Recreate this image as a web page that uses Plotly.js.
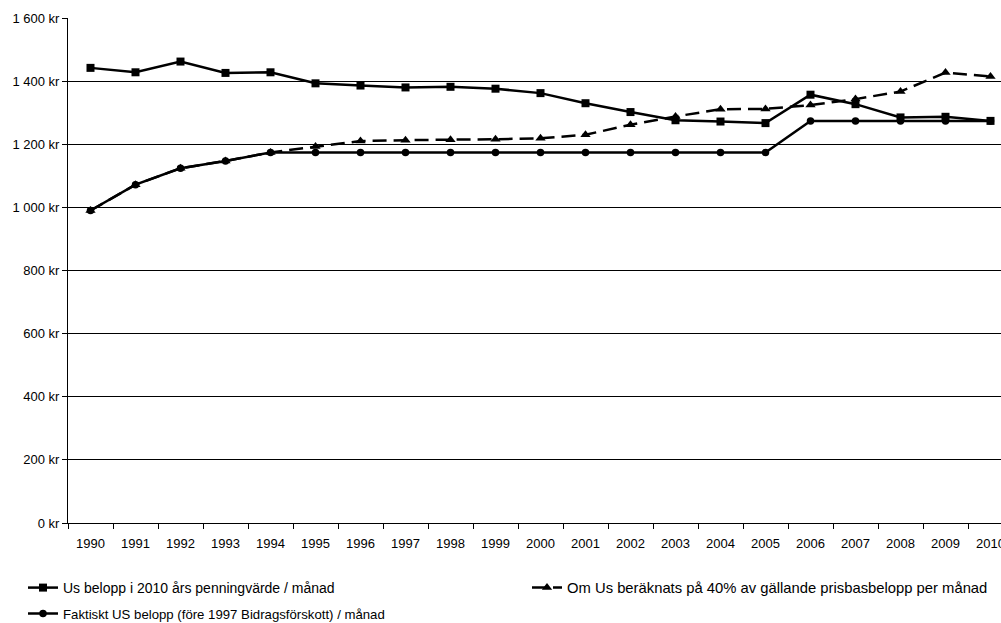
<!DOCTYPE html>
<html>
<head>
<meta charset="utf-8">
<script src="https://cdn.plot.ly/plotly-3.0.1.min.js"></script>
<style>html,body{margin:0;padding:0;background:#fff;}#chart{width:1001px;height:623px;}</style>
</head>
<body>
<div id="chart"></div>
<script>
var years = ['1990','1991','1992','1993','1994','1995','1996','1997','1998','1999','2000','2001','2002','2003','2004','2005','2006','2007','2008','2009','2010'];
var usBelopp2010 = [1442,1428,1462,1426,1428,1393,1386,1380,1382,1376,1362,1330,1302,1276,1272,1267,1357,1327,1285,1287,1274];
var omUs40 = [990,1072,1124,1147,1174,1193,1210,1213,1214,1216,1219,1230,1262,1288,1311,1312,1324,1343,1367,1427,1415];
var faktisktUs = [990,1072,1124,1147,1174,1174,1174,1174,1174,1174,1174,1174,1174,1174,1174,1174,1274,1274,1274,1274,1274];
var seriesNames = [
  'Us belopp i 2010 års penningvärde / månad',
  'Om Us beräknats på 40% av gällande prisbasbelopp per månad',
  'Faktiskt US belopp (före 1997 Bidragsförskott) / månad'
];

var fam = '"Liberation Sans", Arial, sans-serif';
var tickFont = {family: fam, size: 13, color: '#000'};

var traces = [
  {x: years, y: usBelopp2010, name: seriesNames[0], type: 'scatter', mode: 'lines+markers',
   line: {color: '#000', width: 2.5}, marker: {symbol: 'square', size: 8, color: '#000'}, legend: 'legend'},
  {x: years, y: faktisktUs, name: seriesNames[2], type: 'scatter', mode: 'lines+markers',
   line: {color: '#000', width: 2.5}, marker: {symbol: 'circle', size: 7.5, color: '#000'}, legend: 'legend3'},
  {x: years, y: omUs40, name: seriesNames[1], type: 'scatter', mode: 'lines+markers',
   line: {color: '#000', width: 2.5, dash: '14px,7px'}, marker: {symbol: 'triangle-up', size: 9, color: '#000'}, legend: 'legend2'}
];

function leg(xpx, ypx, fs) {
  return {
    orientation: 'v', xref: 'container', yref: 'container',
    x: xpx / 1001, xanchor: 'left', y: 1 - ypx / 623, yanchor: 'middle',
    font: {family: fam, size: fs, color: '#000'}, bgcolor: 'rgba(0,0,0,0)', borderwidth: 0
  };
}

// the original chart is cropped on the right: categories are 45 px apart
var plotW = 1001 - 68;
var xMax = -0.5 + plotW / 45;

var layout = {
  width: 1001, height: 623,
  margin: {l: 68, r: 0, t: 18, b: 100, pad: 0, autoexpand: false},
  paper_bgcolor: '#fff', plot_bgcolor: '#fff',
  font: tickFont,
  separators: ', ',
  showlegend: true,
  xaxis: {
    type: 'category', range: [-0.5, xMax], fixedrange: true, automargin: false,
    showline: true, linecolor: '#000', linewidth: 1,
    ticks: 'outside', tickson: 'boundaries', ticklen: 5, tickcolor: '#000', tickwidth: 1,
    showgrid: false, zeroline: false, ticklabelstandoff: 8, tickangle: 0,
    tickfont: tickFont
  },
  yaxis: {
    range: [0, 1600], dtick: 200, tick0: 0, fixedrange: true, automargin: false,
    tickformat: ',d', ticksuffix: ' kr',
    showline: true, linecolor: '#000', linewidth: 1,
    ticks: 'outside', ticklen: 5, tickcolor: '#000', tickwidth: 1,
    showgrid: true, gridcolor: '#000', gridwidth: 1, zeroline: false,
    tickfont: tickFont
  },
  legend: leg(23, 588, 14),
  legend2: leg(527, 588, 14.8),
  legend3: leg(23, 614, 13.2)
};

Plotly.newPlot('chart', traces, layout, {displayModeBar: false, staticPlot: true});
</script>
</body>
</html>
